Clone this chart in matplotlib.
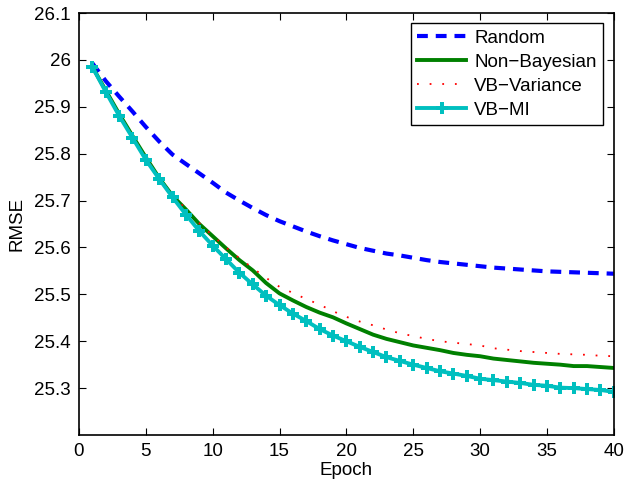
import matplotlib
matplotlib.use('Agg')
import matplotlib.pyplot as plt
import numpy as np

plt.rcParams['font.family'] = ['Liberation Sans', 'DejaVu Sans']

epochs = np.arange(1, 41)

random_rmse = [25.993, 25.955, 25.922, 25.890, 25.857, 25.826, 25.798, 25.778, 25.758, 25.738,
               25.717, 25.700, 25.684, 25.669, 25.656, 25.645, 25.634, 25.624, 25.615, 25.607,
               25.599, 25.593, 25.587, 25.583, 25.578, 25.573, 25.569, 25.566, 25.563, 25.560,
               25.557, 25.555, 25.553, 25.551, 25.549, 25.548, 25.547, 25.546, 25.545, 25.544]

nonbayes_rmse = [25.985, 25.935, 25.885, 25.838, 25.792, 25.748, 25.710, 25.681, 25.650, 25.624,
                 25.598, 25.573, 25.551, 25.524, 25.502, 25.487, 25.473, 25.461, 25.451, 25.438,
                 25.426, 25.414, 25.405, 25.398, 25.391, 25.386, 25.381, 25.375, 25.371, 25.368,
                 25.363, 25.360, 25.357, 25.354, 25.352, 25.350, 25.347, 25.347, 25.345, 25.343]

vbvar_rmse = [25.985, 25.935, 25.885, 25.838, 25.792, 25.748, 25.712, 25.682, 25.652, 25.625,
              25.600, 25.577, 25.556, 25.535, 25.516, 25.503, 25.490, 25.478, 25.464, 25.452,
              25.442, 25.434, 25.425, 25.417, 25.411, 25.405, 25.400, 25.397, 25.394, 25.391,
              25.385, 25.382, 25.379, 25.377, 25.375, 25.373, 25.372, 25.371, 25.369, 25.368]

vbmi_rmse = [25.985, 25.932, 25.881, 25.834, 25.787, 25.746, 25.707, 25.670, 25.635, 25.604,
             25.575, 25.546, 25.521, 25.497, 25.477, 25.459, 25.443, 25.426, 25.412, 25.400,
             25.388, 25.377, 25.366, 25.358, 25.350, 25.343, 25.336, 25.331, 25.326, 25.320,
             25.317, 25.314, 25.311, 25.307, 25.305, 25.301, 25.300, 25.298, 25.296, 25.292]

xticks = [0, 5, 10, 15, 20, 25, 30, 35, 40]
yticks = [25.3, 25.4, 25.5, 25.6, 25.7, 25.8, 25.9, 26.0, 26.1]
ytick_labels = ['25.3', '25.4', '25.5', '25.6', '25.7', '25.8', '25.9', '26', '26.1']

fig = plt.figure(figsize=(6.24, 4.82), dpi=100)
ax = fig.add_axes([0.1266, 0.0975, 0.857, 0.8755])

ax.plot(epochs, random_rmse, color='#0000ff', lw=3, dashes=(2.6, 1.9), label='Random')
ax.plot(epochs, nonbayes_rmse, color='#008000', lw=2.8, label='Non\u2212Bayesian')
ax.plot(epochs, vbvar_rmse, color='#ff0000', lw=1.3, dashes=(1, 6), label='VB\u2212Variance')
ax.plot(epochs, vbmi_rmse, color='#00bfbf', lw=2.8, marker='P', markersize=8,
        markeredgewidth=0, label='VB\u2212MI')

ax.set_xlim(0, 40)
ax.set_ylim(25.2, 26.1)
ax.set_xticks(xticks)
ax.set_yticks(yticks)
ax.set_yticklabels(ytick_labels)
ax.tick_params(direction='in', top=True, right=True, length=5, width=0.8,
               labelsize=13.5, pad=6)
for s in ax.spines.values():
    s.set_linewidth(1.2)

ax.set_xlabel('Epoch', fontsize=13.5, labelpad=1)
ax.set_ylabel('RMSE', fontsize=13.5, labelpad=6)

leg = ax.legend(loc='upper right', fontsize=13.5, handlelength=2.6, fancybox=False,
                edgecolor='black', framealpha=1, borderaxespad=0.55,
                handletextpad=0.45, labelspacing=0.36, borderpad=0.35)
leg.get_frame().set_linewidth(1.0)

fig.savefig('out.png', dpi=100)
